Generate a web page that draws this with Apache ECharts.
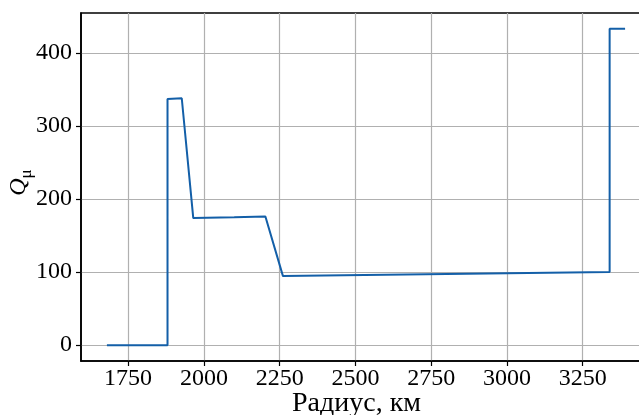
<!DOCTYPE html>
<html>
<head>
<meta charset="utf-8">
<script src="https://cdn.jsdelivr.net/npm/echarts@6/dist/echarts.min.js"></script>
<style>
  html, body { margin: 0; padding: 0; background: #fff; }
  #chart { width: 639px; height: 415px; }
</style>
</head>
<body>
<div id="chart"></div>
<script>
// radius, km and Q values
const radius = [1680, 1880, 1880, 1927, 1965, 2100, 2203, 2261, 2800, 3339, 3339, 3390];
const qValues = [0, 0, 337, 338, 174, 175, 176, 94.5, 97.5, 100, 433, 433];
const xTicks = [1750, 2000, 2250, 2500, 2750, 3000, 3250];
const yTicks = [0, 100, 200, 300, 400];

const font = 'Liberation Serif';
const myChart = echarts.init(document.getElementById('chart'));

const axisCommon = {
  axisLine: { show: true, onZero: false, lineStyle: { color: '#000', width: 1.6 } },
  axisTick: { show: true, length: 5, lineStyle: { color: '#000', width: 1.2 } },
  splitLine: { show: true, lineStyle: { color: '#b0b0b0', width: 1.2 } },
};

const option = {
  animation: false,
  grid: {
    left: 81,
    top: 13,
    right: -12,
    bottom: 54,
    outerBoundsMode: 'none',
    containLabel: false,
    show: true,
    borderColor: '#000',
    borderWidth: 1.6,
  },
  xAxis: {
    type: 'value',
    min: 1594.5,
    max: 3475.5,
    name: 'Радиус, км',
    nameLocation: 'middle',
    nameGap: 29,
    nameMoveOverlap: false,
    nameTextStyle: { fontFamily: font, fontSize: 28, color: '#000', padding: [0, 19, 0, 0] },
    ...axisCommon,
    axisTick: { ...axisCommon.axisTick, customValues: xTicks },
    axisLabel: {
      customValues: xTicks,
      margin: 6,
      fontFamily: font,
      fontSize: 24,
      color: '#000',
      formatter: v => String(v),
    },
  },
  yAxis: {
    type: 'value',
    min: -21.7,
    max: 454.7,
    name: '{q|Q}{s|μ}',
    nameLocation: 'middle',
    nameGap: 35,
    nameMoveOverlap: false,
    nameRotate: 90,
    nameTextStyle: {
      color: '#000',
      padding: [0, 0, 0, 9],
      rich: {
        q: { fontFamily: font, fontStyle: 'italic', fontSize: 24, color: '#000', padding: [0, 0, 15, 0] },
        s: { fontFamily: font, fontSize: 17, color: '#000' },
      },
    },
    ...axisCommon,
    axisTick: { ...axisCommon.axisTick, customValues: yTicks },
    axisLabel: {
      customValues: yTicks,
      margin: 9,
      fontFamily: font,
      fontSize: 24,
      color: '#000',
      formatter: v => String(v),
    },
  },
  series: [
    {
      type: 'line',
      data: radius.map((r, i) => [r, qValues[i]]),
      showSymbol: false,
      symbol: 'none',
      lineStyle: { color: '#135fa8', width: 2 },
    },
  ],
};

myChart.setOption(option, true);
</script>
</body>
</html>
